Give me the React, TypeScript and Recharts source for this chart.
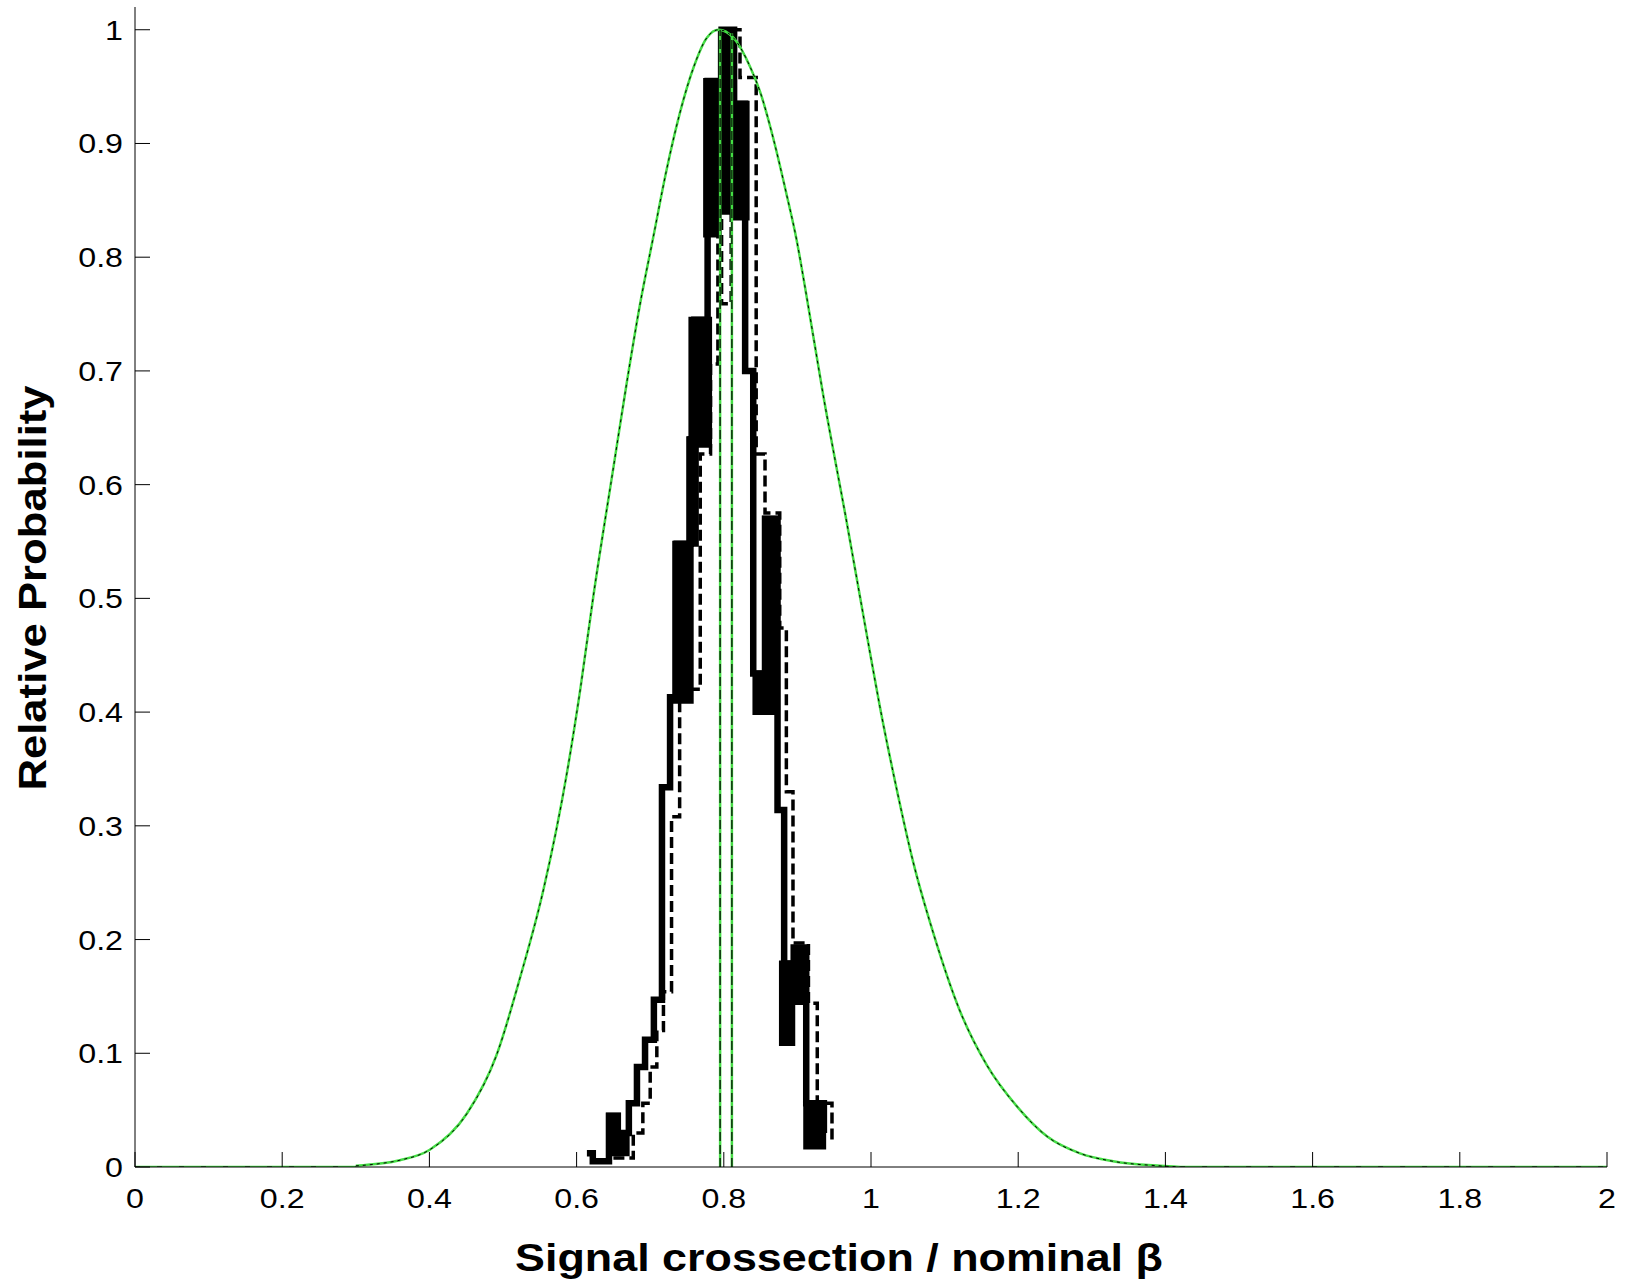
import React from 'react';
import { ComposedChart, Line, XAxis, YAxis, ReferenceArea } from 'recharts';

const WIDTH = 1629;
const HEIGHT = 1283;
const PLOT_LEFT = 135;
const PLOT_RIGHT = 1607;
const PLOT_TOP = 7;
const PLOT_BOTTOM = 1167;
const TICK_LEN = 15;
const FONT = '"Liberation Sans", Arial, Helvetica, sans-serif';
const GREEN = '#44dd44';

const xTicks = [0, 0.2, 0.4, 0.6, 0.8, 1, 1.2, 1.4, 1.6, 1.8, 2];
const yTicks = [0, 0.1, 0.2, 0.3, 0.4, 0.5, 0.6, 0.7, 0.8, 0.9, 1];

// smooth curve (green line with black dashes on top)
const curveX = [0.3, 0.333, 0.36, 0.4, 0.451, 0.491, 0.523, 0.555, 0.587, 0.605, 0.623, 0.65, 0.668, 0.686, 0.704, 0.722, 0.74, 0.759, 0.777, 0.793, 0.813, 0.836, 0.849, 0.867, 0.885, 0.899, 0.91, 0.935, 0.967, 0.994, 1.012, 1.035, 1.057, 1.085, 1.121, 1.157, 1.2, 1.239, 1.284, 1.329, 1.393, 1.42];
const curveY = [0.001, 0.003, 0.006, 0.015, 0.047, 0.098, 0.166, 0.244, 0.347, 0.42, 0.503, 0.615, 0.689, 0.758, 0.817, 0.876, 0.926, 0.967, 0.993, 1.0, 0.993, 0.967, 0.946, 0.905, 0.856, 0.815, 0.775, 0.679, 0.567, 0.469, 0.405, 0.332, 0.269, 0.205, 0.137, 0.09, 0.052, 0.027, 0.012, 0.005, 0.001, 0];
const tailLeftX = [0, 0.3];
const tailRightX = [1.42, 2];

// the two vertical markers
const markerX = [0.795, 0.811];
const markerTop = [1.0, 0.997];

// solid histogram (step after)
const solidX = [0.614, 0.622, 0.644, 0.656, 0.662, 0.671, 0.682, 0.693, 0.705, 0.716, 0.727, 0.736, 0.755, 0.76, 0.778, 0.797, 0.814, 0.829, 0.84, 0.856, 0.873, 0.882, 0.895, 0.912, 0.936];
const solidY = [0.012, 0.005, 0.045, 0.02, 0.03, 0.056, 0.088, 0.112, 0.147, 0.334, 0.413, 0.548, 0.64, 0.745, 0.955, 1.0, 0.935, 0.7, 0.434, 0.57, 0.314, 0.179, 0.193, 0.056, 0.03];

// places where the solid histogram flips so fast it looks filled: [x1, x2, y1, y2]
const solidBlobs: [number, number, number, number][] = [
  [0.644, 0.656, 0.012, 0.045],
  [0.656, 0.668, 0.012, 0.03],
  [0.734, 0.755, 0.41, 0.548],
  [0.753, 0.762, 0.548, 0.64],
  [0.756, 0.78, 0.635, 0.745],
  [0.776, 0.793, 0.82, 0.955],
  [0.796, 0.81, 0.84, 0.998],
  [0.816, 0.831, 0.835, 0.935],
  [0.843, 0.857, 0.4, 0.434],
  [0.856, 0.872, 0.4, 0.57],
  [0.879, 0.893, 0.109, 0.179],
  [0.896, 0.91, 0.145, 0.19],
  [0.912, 0.935, 0.018, 0.056],
];

// dashed histogram (step after)
const dashedX = [0.65, 0.677, 0.69, 0.7, 0.709, 0.718, 0.729, 0.74, 0.768, 0.782, 0.792, 0.797, 0.81, 0.822, 0.844, 0.856, 0.876, 0.885, 0.894, 0.915, 0.927, 0.947];
const dashedY = [0.008, 0.03, 0.056, 0.088, 0.12, 0.154, 0.308, 0.42, 0.627, 0.706, 0.95, 0.759, 1.0, 0.958, 0.627, 0.575, 0.474, 0.33, 0.197, 0.144, 0.056, 0.021];

const toPoints = (xs: number[], ys: number[]) => xs.map((x, i) => ({ x, y: ys[i] }));

const curveData = toPoints(curveX, curveY);
const tailLeft = tailLeftX.map((x) => ({ x, y: 0 }));
const tailRight = tailRightX.map((x) => ({ x, y: 0 }));
const markers = markerX.map((x, i) => [{ x, y: 0 }, { x, y: markerTop[i] }]);
const solidData = toPoints(solidX, solidY);
const dashedData = toPoints(dashedX, dashedY);

const BottomTick = (props: any) => {
  const { x, payload } = props;
  return (
    <g>
      <line x1={x} x2={x} y1={PLOT_BOTTOM} y2={PLOT_BOTTOM - TICK_LEN} stroke="#000" />
      <text
        transform={`translate(${x},${PLOT_BOTTOM + 41}) scale(1.15,1)`}
        textAnchor="middle"
        fontFamily={FONT}
        fontSize={28}
        fill="#000"
      >
        {payload.value}
      </text>
    </g>
  );
};

const TopTick = (props: any) => (
  <line x1={props.x} x2={props.x} y1={PLOT_TOP} y2={PLOT_TOP + TICK_LEN} stroke="#000" />
);

const LeftTick = (props: any) => {
  const { y, payload } = props;
  return (
    <g>
      <line x1={PLOT_LEFT} x2={PLOT_LEFT + TICK_LEN} y1={y} y2={y} stroke="#000" />
      <text
        transform={`translate(${PLOT_LEFT - 12},${y + 10}) scale(1.15,1)`}
        textAnchor="end"
        fontFamily={FONT}
        fontSize={28}
        fill="#000"
      >
        {payload.value}
      </text>
    </g>
  );
};

const RightTick = (props: any) => (
  <line x1={PLOT_RIGHT} x2={PLOT_RIGHT - TICK_LEN} y1={props.y} y2={props.y} stroke="#000" />
);

const xTitle = () => (
  <text
    transform={`translate(839,1271) scale(1.15,1)`}
    textAnchor="middle"
    fontFamily={FONT}
    fontWeight="bold"
    fontSize={39}
    fill="#000"
  >
    Signal crossection / nominal β
  </text>
);

const yTitle = () => (
  <text
    transform={`translate(46,588) rotate(-90) scale(1.12,1)`}
    textAnchor="middle"
    fontFamily={FONT}
    fontWeight="bold"
    fontSize={39}
    fill="#000"
  >
    Relative Probability
  </text>
);

const App: React.FC = () => {
  return (
    <div style={{ position: 'absolute', left: 0, top: 0, width: WIDTH, height: HEIGHT, background: '#fff' }}>
      <ComposedChart
        width={WIDTH}
        height={HEIGHT}
        margin={{ top: PLOT_TOP, right: WIDTH - PLOT_RIGHT, bottom: 0, left: 0 }}
      >
        <XAxis
          xAxisId="b"
          dataKey="x"
          type="number"
          domain={[0, 2]}
          ticks={xTicks}
          interval={0}
          allowDataOverflow
          height={HEIGHT - PLOT_BOTTOM}
          tickLine={false}
          tickSize={0}
          axisLine={{ stroke: '#000' }}
          tick={<BottomTick />}
          label={xTitle}
        />
        <XAxis
          xAxisId="t"
          orientation="top"
          dataKey="x"
          type="number"
          domain={[0, 2]}
          ticks={xTicks}
          interval={0}
          allowDataOverflow
          height={0}
          tickLine={false}
          tickSize={0}
          axisLine={{ stroke: '#000' }}
          tick={<TopTick />}
        />
        <YAxis
          yAxisId="l"
          type="number"
          domain={[0, 1.02]}
          ticks={yTicks}
          interval={0}
          allowDataOverflow
          width={PLOT_LEFT}
          tickLine={false}
          tickSize={0}
          axisLine={{ stroke: '#000' }}
          tick={<LeftTick />}
          label={yTitle}
        />
        <YAxis
          yAxisId="r"
          orientation="right"
          type="number"
          domain={[0, 1.02]}
          ticks={yTicks}
          interval={0}
          allowDataOverflow
          width={0}
          tickLine={false}
          tickSize={0}
          axisLine={{ stroke: '#000' }}
          tick={<RightTick />}
        />

        {solidBlobs.map(([x1, x2, y1, y2], i) => (
          <ReferenceArea
            key={`blob-${i}`}
            xAxisId="b"
            yAxisId="l"
            x1={x1}
            x2={x2}
            y1={y1}
            y2={y2}
            fill="#000"
            fillOpacity={1}
            stroke="#000"
            strokeWidth={6}
            ifOverflow="visible"
          />
        ))}

        <Line
          xAxisId="b"
          yAxisId="l"
          data={solidData}
          dataKey="y"
          type="stepAfter"
          stroke="#000"
          strokeWidth={6.5}
          dot={false}
          activeDot={false}
          isAnimationActive={false}
        />
        <Line
          xAxisId="b"
          yAxisId="l"
          data={dashedData}
          dataKey="y"
          type="stepAfter"
          stroke="#000"
          strokeWidth={3.5}
          strokeDasharray="11 5"
          dot={false}
          activeDot={false}
          isAnimationActive={false}
        />

        {[tailLeft, curveData, tailRight].map((d, i) => (
          <Line
            key={`curve-g-${i}`}
            xAxisId="b"
            yAxisId="l"
            data={d}
            dataKey="y"
            type="monotone"
            stroke={GREEN}
            strokeWidth={2.5}
            dot={false}
            activeDot={false}
            isAnimationActive={false}
          />
        ))}
        {[tailLeft, curveData, tailRight].map((d, i) => (
          <Line
            key={`curve-k-${i}`}
            xAxisId="b"
            yAxisId="l"
            data={d}
            dataKey="y"
            type="monotone"
            stroke="#000"
            strokeWidth={1}
            strokeDasharray={i === 1 ? '3 4' : '5 17'}
            dot={false}
            activeDot={false}
            isAnimationActive={false}
          />
        ))}

        {markers.map((d, i) => (
          <Line
            key={`marker-g-${i}`}
            xAxisId="b"
            yAxisId="l"
            data={d}
            dataKey="y"
            type="linear"
            stroke={GREEN}
            strokeWidth={2.5}
            dot={false}
            activeDot={false}
            isAnimationActive={false}
          />
        ))}
        {markers.map((d, i) => (
          <Line
            key={`marker-k-${i}`}
            xAxisId="b"
            yAxisId="l"
            data={d}
            dataKey="y"
            type="linear"
            stroke="#000"
            strokeWidth={1.2}
            strokeDasharray="9 4"
            dot={false}
            activeDot={false}
            isAnimationActive={false}
          />
        ))}
      </ComposedChart>
    </div>
  );
};

export default App;
